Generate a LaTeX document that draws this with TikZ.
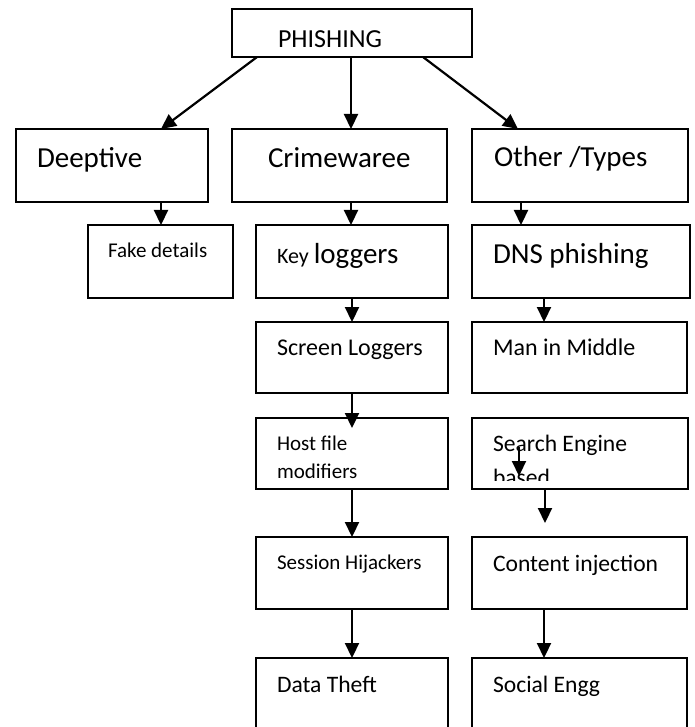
\documentclass[tikz,border=0pt]{standalone}
\usepackage{fontspec}
\setmainfont{Carlito}
\usetikzlibrary{arrows.meta,calc}
\newcommand\setfs[1]{\fontsize{#1}{#1}\selectfont}
\begin{document}
\begin{tikzpicture}[x=1pt,y=-1pt,
  box/.style={draw, line width=1.9pt, rectangle, inner sep=0pt, outer sep=0pt, anchor=north west},
  txt/.style={inner sep=0pt, outer sep=0pt, anchor=base west},
  arr/.style={line width=2.2pt, -{Triangle[width=14pt,length=15pt]}}]
\useasboundingbox (0,0) rectangle (694,727);
\fill[white] (0,0) rectangle (694,727);
\clip (0,0) rectangle (694,727);
% boxes
\node[box, minimum width=240, minimum height=48] (phish) at (232,9) {};
\node[box, minimum width=192, minimum height=73] (deep) at (16,129) {};
\node[box, minimum width=215, minimum height=73] (crime) at (232,129) {};
\node[box, minimum width=216, minimum height=73] (other) at (472,129) {};
\node[box, minimum width=145, minimum height=73] (fake) at (88,225) {};
\node[box, minimum width=192, minimum height=73] (key) at (256,225) {};
\node[box, minimum width=218, minimum height=73] (dns) at (472,225) {};
\node[box, minimum width=192, minimum height=71] (screen) at (256,322) {};
\node[box, minimum width=215, minimum height=71] (man) at (472,322) {};
\node[box, minimum width=192, minimum height=71] (host) at (256,418) {};
\node[box, minimum width=216, minimum height=71] (search) at (472,418) {};
\node[box, minimum width=192, minimum height=72] (session) at (256,537) {};
\node[box, minimum width=215, minimum height=72] (content) at (472,537) {};
\node[box, minimum width=192, minimum height=100] (data) at (256,658) {};
\node[box, minimum width=215, minimum height=100] (social) at (472,658) {};
% texts
\node[txt, font=\setfs{26}] (tphish) at (278,48) {PHISHING};
\node[txt, font=\setfs{29}] (tdeep) at (37,168) {Deeptive};
\node[txt, font=\setfs{29}] (tcrime) at (268,168) {Crimewaree};
\node[txt, font=\setfs{29}] (tother) at (494,167) {Other /Types};
\node[txt, font=\setfs{21}] (tfake) at (108,257) {Fake details};
\node[txt] (tkey) at (277,263) {{\setfs{22}Key }{\setfs{29}loggers}};
\node[txt, font=\setfs{29}] (tdns) at (493,263) {DNS phishing};
\node[txt, font=\setfs{24}] (tscreen) at (277,355) {Screen Loggers};
\node[txt, font=\setfs{24}] (tman) at (493,355) {Man in Middle};
\node[txt, font=\setfs{21}] (thost) at (277,450) {Host file};
\node[txt, font=\setfs{21}] (thost2) at (277,478) {modifiers};
\node[txt, font=\setfs{23.6}] (tsearch) at (493,451) {Search Engine};
\begin{scope}
\clip (search.north west) rectangle ($(search.south east)+(0,-9)$);
\node[txt, font=\setfs{23.6}] (tsearch2) at (493,485) {based};
\end{scope}
\node[txt, font=\setfs{21}] (tsession) at (277,569) {Session Hijackers};
\node[txt, font=\setfs{23.6}] (tcontent) at (493,571) {Content injection};
\node[txt, font=\setfs{23.6}] (tdata) at (277,692) {Data Theft};
\node[txt, font=\setfs{23.6}] (tsocial) at (493,692) {Social Engg};
% connectors
\draw[arr] ($(phish.south west)+(25,0)$) -- ($(deep.north west)+(145,0)$);
\draw[arr] ($(phish.south west)+(119,0)$) -- ($(crime.north west)+(119,0)$);
\draw[arr] ($(phish.south west)+(191,0)$) -- ($(other.north west)+(46,0)$);
\draw[arr] ($(deep.south west)+(145,0)$) -- ($(fake.north west)+(73,0)$);
\draw[arr] ($(crime.south west)+(119,0)$) -- ($(key.north west)+(95,0)$);
\draw[arr] ($(other.south west)+(49,0)$) -- ($(dns.north west)+(49,0)$);
\draw[arr] ($(key.south west)+(96,0)$) -- ($(screen.north west)+(96,0)$);
\draw[arr] ($(dns.south west)+(72,0)$) -- ($(man.north west)+(72,0)$);
\draw[arr] ($(screen.south west)+(96,0)$) -- ($(host.north west)+(96,10)$);
\draw[arr] ($(search.north west)+(47,29)$) -- ($(search.north west)+(47,58)$);
\draw[arr] ($(host.south west)+(96,0)$) -- ($(session.north west)+(96,0)$);
\draw[arr] ($(search.south west)+(73,0)$) -- ($(content.north west)+(73,-14)$);
\draw[arr] ($(session.south west)+(96,0)$) -- ($(data.north west)+(96,0)$);
\draw[arr] ($(content.south west)+(72,0)$) -- ($(social.north west)+(72,0)$);
\end{tikzpicture}
\end{document}
